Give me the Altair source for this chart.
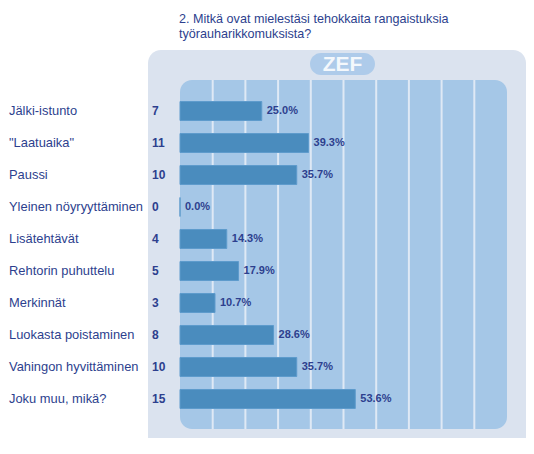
import altair as alt
import pandas as pd

categories = ["Jälki-istunto", '"Laatuaika"', "Paussi", "Yleinen nöyryyttäminen",
              "Lisätehtävät", "Rehtorin puhuttelu", "Merkinnät",
              "Luokasta poistaminen", "Vahingon hyvittäminen", "Joku muu, mikä?"]
counts = [7, 11, 10, 0, 4, 5, 3, 8, 10, 15]
percents = [25.0, 39.3, 35.7, 0.0, 14.3, 17.9, 10.7, 28.6, 35.7, 53.6]
grid_values = [10, 20, 30, 40, 50, 60, 70, 80, 90]
title_lines = ["2. Mitkä ovat mielestäsi tehokkaita rangaistuksia",
               "työrauharikkomuksista?"]
badge_text = "ZEF"

W, H = 327, 350
FONT = "Liberation Sans"
TXT = "#2d3f8e"

df = pd.DataFrame({
    "cat": categories,
    "count": counts,
    "pct": percents,
    "pct_label": [f"{p:.1f}%" for p in percents],
})
dummy = pd.DataFrame({"a": [0]})
grid_df = pd.DataFrame({"g": grid_values})

xs = alt.Scale(domain=[0, 100], nice=False, zero=True)
ys = alt.Scale(domain=categories, paddingInner=0.406, paddingOuter=0.672)

outer = alt.Chart(dummy).mark_rect(color="#dbe3ef", cornerRadius=13).encode(
    x=alt.value(-32), x2=alt.value(346), y=alt.value(-30), y2=alt.value(370))

badge = alt.Chart(dummy).mark_rect(color="#aecbea", cornerRadius=11).encode(
    x=alt.value(130), x2=alt.value(195), y=alt.value(-27), y2=alt.value(-5))
badge_t = alt.Chart(dummy).mark_text(text=badge_text, font=FONT, fontSize=21,
                                     fontWeight="bold", color="#f4f8fc",
                                     baseline="middle", align="center").encode(
    x=alt.value(162.5), y=alt.value(-15))

inner = alt.Chart(dummy).mark_rect(color="#a5c7e7", cornerRadius=12).encode(
    x=alt.value(0), x2=alt.value(W), y=alt.value(0), y2=alt.value(H - 1))

grid = alt.Chart(grid_df).mark_rule(color="#dfe9f5", strokeWidth=2).encode(
    x=alt.X("g:Q", scale=xs, axis=None),
    y=alt.value(0), y2=alt.value(H - 1))

title1 = alt.Chart(dummy).mark_text(text=title_lines[0], font=FONT, fontSize=12.6,
                                    color=TXT, align="left", baseline="middle").encode(
    x=alt.value(-1), y=alt.value(-61))
title2 = alt.Chart(dummy).mark_text(text=title_lines[1], font=FONT, fontSize=12.6,
                                    color=TXT, align="left", baseline="middle").encode(
    x=alt.value(-1), y=alt.value(-46.5))

base = alt.Chart(df)
bars = base.mark_bar(color="#4a8cbe", stroke="#5e9bcc", strokeWidth=1).encode(
    x=alt.X("pct:Q", scale=xs, axis=None),
    y=alt.Y("cat:N", scale=ys, axis=None, sort=categories))

pct_t = base.mark_text(font=FONT, fontSize=11, fontWeight="bold", color=TXT,
                       align="left", baseline="middle", dx=5).encode(
    x=alt.X("pct:Q", scale=xs, axis=None),
    y=alt.Y("cat:N", scale=ys, axis=None, sort=categories),
    text="pct_label:N")

cnt_t = base.mark_text(font=FONT, fontSize=12, fontWeight="bold", color=TXT,
                       align="left", baseline="middle").encode(
    x=alt.value(-28),
    y=alt.Y("cat:N", scale=ys, axis=None, sort=categories),
    text="count:N")

cat_t = base.mark_text(font=FONT, fontSize=12.9, color=TXT,
                       align="left", baseline="middle").encode(
    x=alt.value(-171),
    y=alt.Y("cat:N", scale=ys, axis=None, sort=categories),
    text="cat:N")

chart = alt.layer(outer, badge, badge_t, inner, grid, bars, pct_t, cnt_t, cat_t,
                  title1, title2).properties(
    width=W, height=H,
    padding={"left": 172, "top": 72, "right": 19, "bottom": 8},
    autosize=alt.AutoSizeParams(type="none"),
    background="white",
).configure_view(stroke=None)

chart.save("out.html", embed_options={"renderer": "svg", "actions": False})
